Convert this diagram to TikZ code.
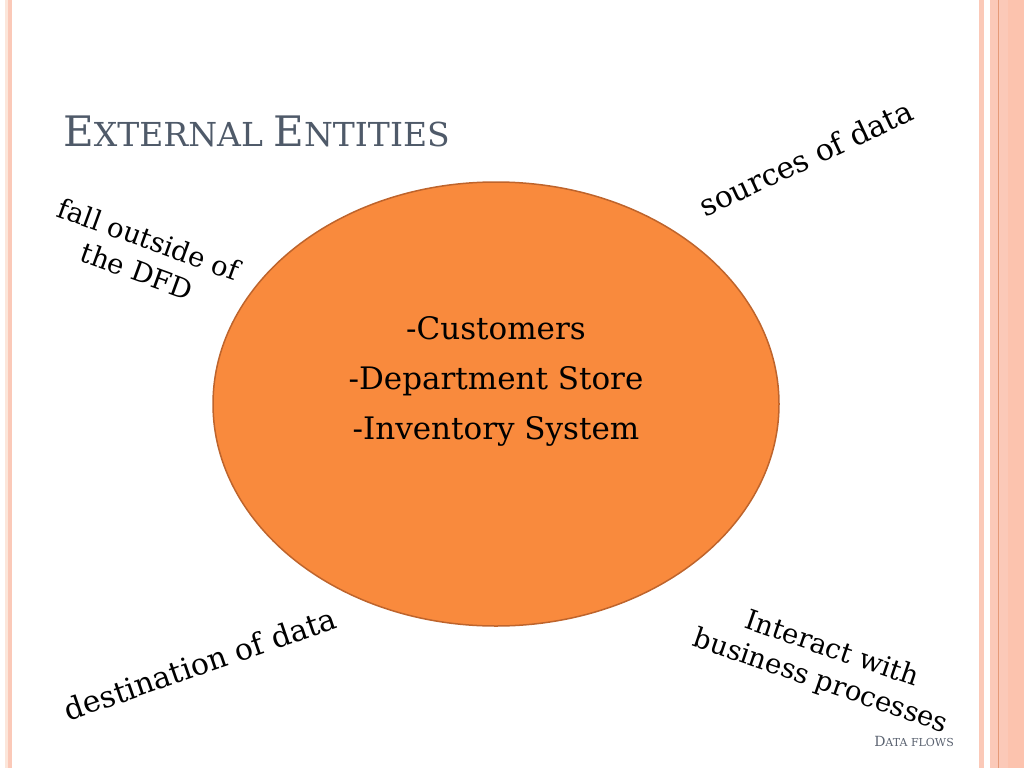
\documentclass[tikz,border=0pt]{standalone}
\usepackage{fontspec}
\setmainfont{DejaVu Serif}
\usepackage{xcolor}
\definecolor{ovalOrange}{HTML}{F98A3D}
\definecolor{ovalEdge}{HTML}{BE642C}
\definecolor{titleSlate}{HTML}{4F5A69}
\definecolor{footGray}{HTML}{5A6270}
\definecolor{stripePink}{HTML}{FBC9B8}
\definecolor{stripeSalmon}{HTML}{FCC3AE}
\definecolor{stripeLine}{HTML}{E59A78}
\definecolor{stripeCream}{HTML}{FCE6DA}
\usetikzlibrary{shapes.geometric, positioning}

\begin{document}
\begin{tikzpicture}[
    x=1pt, y=-1pt,
    ovalNode/.style={ellipse, fill=ovalOrange, draw=ovalEdge, line width=1.5pt, minimum width=566pt, minimum height=444pt, inner sep=0pt},
    listNode/.style={font=\fontsize{31}{50}\selectfont, align=center, text=black},
    noteNode/.style={font=\fontsize{30}{30}\selectfont, align=center, text=black, inner sep=0pt},
    pairNode/.style={noteNode, font=\fontsize{27.5}{34}\selectfont},
    titleNode/.style={anchor=base west, text=titleSlate, inner sep=0pt},
    footNode/.style={anchor=base east, text=footGray, inner sep=0pt}
]
\useasboundingbox (0,0) rectangle (1024,768);

% side stripes
\fill[stripeCream] (5,0) rectangle (8,768);
\fill[stripePink] (8,0) rectangle (12,768);
\fill[stripePink] (979,0) rectangle (984,768);
\fill[stripePink] (990,0) rectangle (1008,768);
\fill[stripeSalmon] (1008,0) rectangle (1024,768);
\draw[stripeLine, line width=1pt] (998.5,0) -- (998.5,768);

% title
\node[titleNode] (title) at (63,146)
    {{\fontsize{42}{44}\selectfont E}{\fontsize{33}{36}\selectfont XTERNAL }{\fontsize{42}{44}\selectfont E}{\fontsize{33}{36}\selectfont NTITIES}};

% the oval and its entries
\node[ovalNode] (oval) at (496,404) {};
\node[listNode] (entities) at (496,381)
    {-Customers\\-Department Store\\-Inventory System};

% notes round the oval
\node[noteNode, rotate=25] (sources) at (806,158) {sources of data};
\node[pairNode, rotate=-20] (outside) at (143,255) {fall outside of\\the DFD};
\node[noteNode, rotate=19] (destination) at (200,664) {destination of data};
\node[pairNode, rotate=-19] (interact) at (826,666) {Interact with\\business processes};

% footer
\node[footNode] (footer) at (954,746)
    {{\fontsize{14}{16}\selectfont D}{\fontsize{11}{12}\selectfont ATA FLOWS}};

\end{tikzpicture}
\end{document}
